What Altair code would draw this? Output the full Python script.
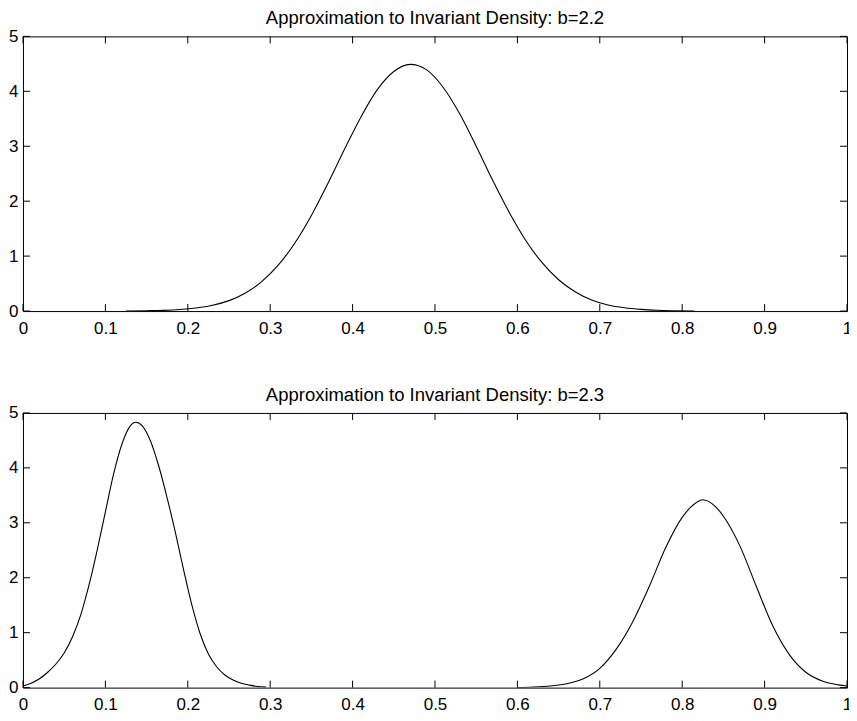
import altair as alt
import pandas as pd

# ---- data ----
x_ticks = [0, 0.1, 0.2, 0.3, 0.4, 0.5, 0.6, 0.7, 0.8, 0.9, 1.0]
y_ticks = [0, 1, 2, 3, 4, 5]

titles = ["Approximation to Invariant Density: b=2.2",
          "Approximation to Invariant Density: b=2.3"]

top_x = [0.125, 0.15, 0.17, 0.19, 0.21, 0.23, 0.25, 0.27, 0.29, 0.31, 0.33, 0.35,
         0.37, 0.39, 0.41, 0.43, 0.45, 0.47, 0.49, 0.51, 0.53, 0.55, 0.57, 0.59,
         0.61, 0.63, 0.65, 0.67, 0.69, 0.71, 0.73, 0.75, 0.77, 0.79, 0.815]
top_y = [0.0, 0.006, 0.013, 0.027, 0.055, 0.105, 0.19, 0.33, 0.54, 0.84, 1.24, 1.74,
         2.32, 2.94, 3.53, 4.03, 4.36, 4.49, 4.39, 4.07, 3.59, 3.00, 2.38, 1.80,
         1.29, 0.88, 0.57, 0.35, 0.20, 0.11, 0.059, 0.03, 0.014, 0.006, 0.0]

bl_x = [0.0, 0.01, 0.02, 0.03, 0.04, 0.05, 0.06, 0.07, 0.08, 0.09, 0.10, 0.11,
        0.12, 0.13, 0.137, 0.145, 0.155, 0.165, 0.175, 0.185, 0.195, 0.205, 0.215,
        0.225, 0.235, 0.245, 0.255, 0.265, 0.275, 0.285, 0.295]
bl_y = [0.03, 0.08, 0.16, 0.28, 0.43, 0.63, 0.92, 1.32, 1.86, 2.50, 3.20, 3.89,
        4.43, 4.76, 4.83, 4.76, 4.48, 4.02, 3.45, 2.82, 2.14, 1.50, 0.98,
        0.61, 0.38, 0.23, 0.14, 0.08, 0.045, 0.02, 0.008]

br_x = [0.60, 0.62, 0.64, 0.66, 0.68, 0.70, 0.72, 0.74, 0.76, 0.78, 0.80, 0.81,
        0.825, 0.84, 0.85, 0.87, 0.89, 0.91, 0.93, 0.95, 0.97, 0.99, 1.0]
br_y = [0.0, 0.01, 0.03, 0.07, 0.16, 0.35, 0.70, 1.20, 1.84, 2.55, 3.10, 3.28,
        3.42, 3.30, 3.12, 2.58, 1.84, 1.12, 0.60, 0.28, 0.12, 0.05, 0.03]

# ---- layout / style ----
W, H = 825, 275
TL = 7
FONT = "Liberation Sans"
INK = "black"


def panel(title, df):
    xs = alt.Scale(domain=[0, 1], nice=False, zero=False)
    ys = alt.Scale(domain=[0, 5], nice=False, zero=False)
    common = dict(format="~g", ticks=False, domain=False, grid=False,
                  labelFlush=False, title=None,
                  labelFont=FONT, labelFontSize=17, labelColor="black")
    ax_x = alt.Axis(values=x_ticks, labelPadding=9, **common)
    ax_y = alt.Axis(values=y_ticks, labelPadding=5, **common)
    line = alt.Chart(df).mark_line(color="black", strokeWidth=1.1,
                                   interpolate="monotone", clip=True).encode(
        x=alt.X("x:Q", scale=xs, axis=ax_x),
        y=alt.Y("y:Q", scale=ys, axis=ax_y),
        detail="series:N",
    )
    xt = pd.DataFrame({"x": x_ticks})
    yt = pd.DataFrame({"y": y_ticks})
    rule = dict(color=INK, strokeWidth=1)
    bottom = alt.Chart(xt).mark_rule(**rule).encode(
        x=alt.X("x:Q", scale=xs, axis=ax_x), y=alt.value(H), y2=alt.value(H - TL))
    top = alt.Chart(xt).mark_rule(**rule).encode(
        x=alt.X("x:Q", scale=xs, axis=ax_x), y=alt.value(0), y2=alt.value(TL))
    left = alt.Chart(yt).mark_rule(**rule).encode(
        y=alt.Y("y:Q", scale=ys, axis=ax_y), x=alt.value(0), x2=alt.value(TL))
    right = alt.Chart(yt).mark_rule(**rule).encode(
        y=alt.Y("y:Q", scale=ys, axis=ax_y), x=alt.value(W), x2=alt.value(W - TL))
    ttl = alt.Chart(pd.DataFrame({"t": [title]})).mark_text(
        font=FONT, fontSize=18.5, color="black", baseline="alphabetic", align="center"
    ).encode(text="t:N", x=alt.value(W / 2), y=alt.value(-12))
    return alt.layer(line, bottom, top, left, right, ttl).properties(width=W, height=H)


df_top = pd.DataFrame({"x": top_x, "y": top_y, "series": "a"})
df_bot = pd.concat([
    pd.DataFrame({"x": bl_x, "y": bl_y, "series": "left"}),
    pd.DataFrame({"x": br_x, "y": br_y, "series": "right"}),
])

chart = alt.vconcat(panel(titles[0], df_top), panel(titles[1], df_bot), spacing=48).properties(
    padding={"left": 0, "top": 0, "right": -4, "bottom": 0},
    background="white",
).configure_view(stroke=INK, strokeWidth=1)

chart.save("out.html", embed_options={"renderer": "svg", "actions": False})
